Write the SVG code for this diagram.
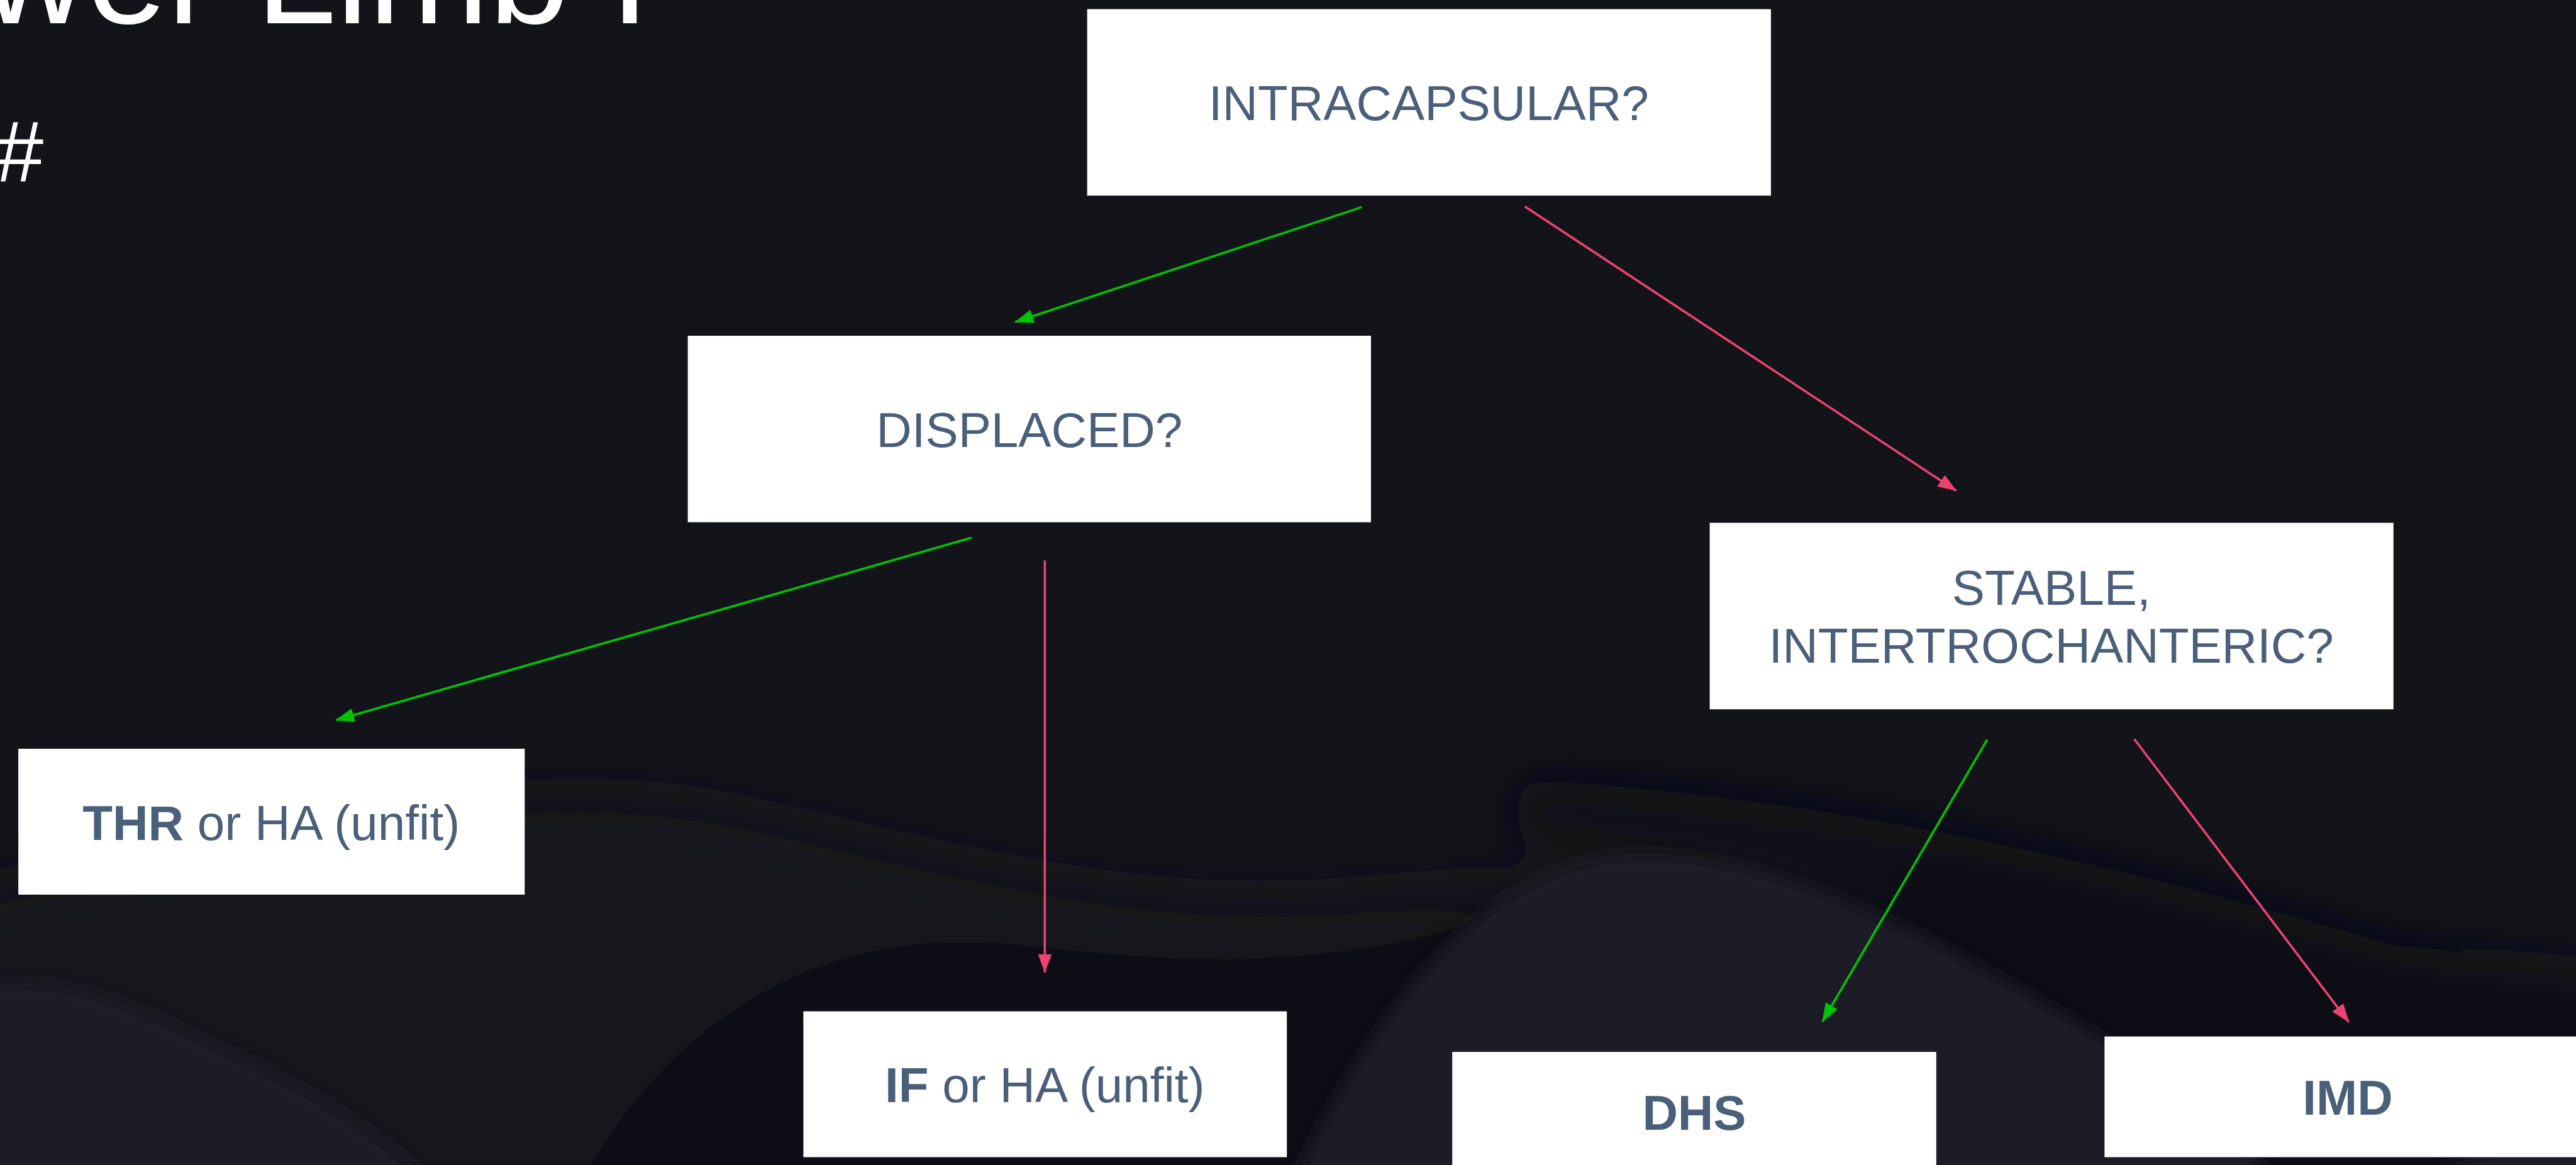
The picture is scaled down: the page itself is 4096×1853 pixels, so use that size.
<svg xmlns="http://www.w3.org/2000/svg" width="4096" height="1853" viewBox="0 0 4096 1853">
<style>
.box{fill:#ffffff}
.lbl{font-family:"Liberation Sans",Arial,sans-serif;font-size:86px;fill:#4a5f79;text-anchor:middle}
.b{font-weight:bold}
.title{font-family:"Liberation Sans",Arial,sans-serif;fill:#ffffff}
.g{stroke:#00c400;stroke-width:4;fill:none}
.r{stroke:#ec4370;stroke-width:4;fill:none}
</style>
<defs>
<marker id="ag" viewBox="0 0 33 24" markerWidth="33" markerHeight="24" markerUnits="userSpaceOnUse" refX="32" refY="12" orient="auto"><path d="M0,0 L33,12 L0,24 Z" fill="#00c400"/></marker>
<marker id="ar" viewBox="0 0 33 24" markerWidth="33" markerHeight="24" markerUnits="userSpaceOnUse" refX="32" refY="12" orient="auto"><path d="M0,0 L33,12 L0,24 Z" fill="#ec4370"/></marker>
<filter id="soft" filterUnits="userSpaceOnUse" x="-200" y="1000" width="4900" height="1300"><feGaussianBlur stdDeviation="14"/></filter>
<filter id="softer" filterUnits="userSpaceOnUse" x="-200" y="1000" width="4900" height="1300"><feGaussianBlur stdDeviation="45"/></filter>
</defs>
<g transform="scale(0.909818)">
<g id="background">
<rect x="0" y="0" width="4502" height="2037" fill="#13141a"/>
<g filter="url(#softer)">
<path d="M-100,1570 C400,1470 900,1330 1300,1420 C1700,1510 2000,1600 2400,1560 C3000,1500 3800,1600 4700,1720 L4700,2200 L-100,2200 Z" fill="#15161c"/>
<path d="M950,2200 C1120,1790 1420,1620 1760,1650 C2000,1675 2200,1700 2500,1640 C3000,1540 3600,1560 4100,1660 C4400,1720 4600,1760 4700,1780 L4700,2200 Z" fill="#0f1015"/>
<path d="M2700,1420 C3300,1460 3800,1600 4150,1700 C4350,1750 4500,1780 4700,1810" fill="none" stroke="#0e0f13" stroke-width="110" stroke-linecap="round"/>
</g>
<g filter="url(#soft)">
<path d="M-100,1730 C40,1700 160,1720 320,1800 C520,1890 700,1980 880,2200 L-100,2200 Z" fill="#1c1e26"/>
<path d="M2200,2200 C2400,1720 2620,1495 2870,1492 C3120,1490 3420,1660 3700,1830 C3820,1900 3950,1980 4050,2200 Z" fill="#1d1f27"/>
<path d="M4100,2200 C4250,2000 4400,1975 4700,1985 L4700,2200 Z" fill="#1d1f27"/>
</g>
</g>
<g id="title">
<text class="title" x="-31" y="41" font-size="253">wer Limb I</text>
<text class="title" x="-8" y="316" font-size="151">#</text>
</g>
<g id="connectors">
<line class="g" x1="2380" y1="362" x2="1774" y2="563" marker-end="url(#ag)"/>
<line class="r" x1="2665" y1="361" x2="3419" y2="858" marker-end="url(#ar)"/>
<line class="g" x1="1698" y1="940" x2="587" y2="1259" marker-end="url(#ag)"/>
<line class="r" x1="1826" y1="980" x2="1826" y2="1700" marker-end="url(#ar)"/>
<line class="g" x1="3473" y1="1293" x2="3185" y2="1786" marker-end="url(#ag)"/>
<line class="r" x1="3730" y1="1292" x2="4105" y2="1787" marker-end="url(#ar)"/>
</g>
<g id="n-intracapsular">
<rect class="box" x="1900" y="16" width="1195" height="326"/>
<text class="lbl" x="2497" y="210">INTRACAPSULAR?</text>
</g>
<g id="n-displaced">
<rect class="box" x="1202" y="587" width="1194" height="326"/>
<text class="lbl" x="1799" y="781">DISPLACED?</text>
</g>
<g id="n-stable">
<rect class="box" x="2988" y="914" width="1195" height="326"/>
<text class="lbl" x="3585" y="1057">STABLE,</text>
<text class="lbl" x="3585" y="1159">INTERTROCHANTERIC?</text>
</g>
<g id="n-thr">
<rect class="box" x="32" y="1309" width="885" height="255"/>
<text class="lbl" x="474" y="1468"><tspan class="b">THR</tspan> or HA (unfit)</text>
</g>
<g id="n-if">
<rect class="box" x="1404" y="1768" width="845" height="255"/>
<text class="lbl" x="1826" y="1927"><tspan class="b">IF</tspan> or HA (unfit)</text>
</g>
<g id="n-dhs">
<rect class="box" x="2538" y="1839" width="846" height="260"/>
<text class="lbl b" x="2961" y="1975">DHS</text>
</g>
<g id="n-imd">
<rect class="box" x="3678" y="1812" width="850" height="211"/>
<text class="lbl b" x="4103" y="1949">IMD</text>
</g>
</g>
</svg>
